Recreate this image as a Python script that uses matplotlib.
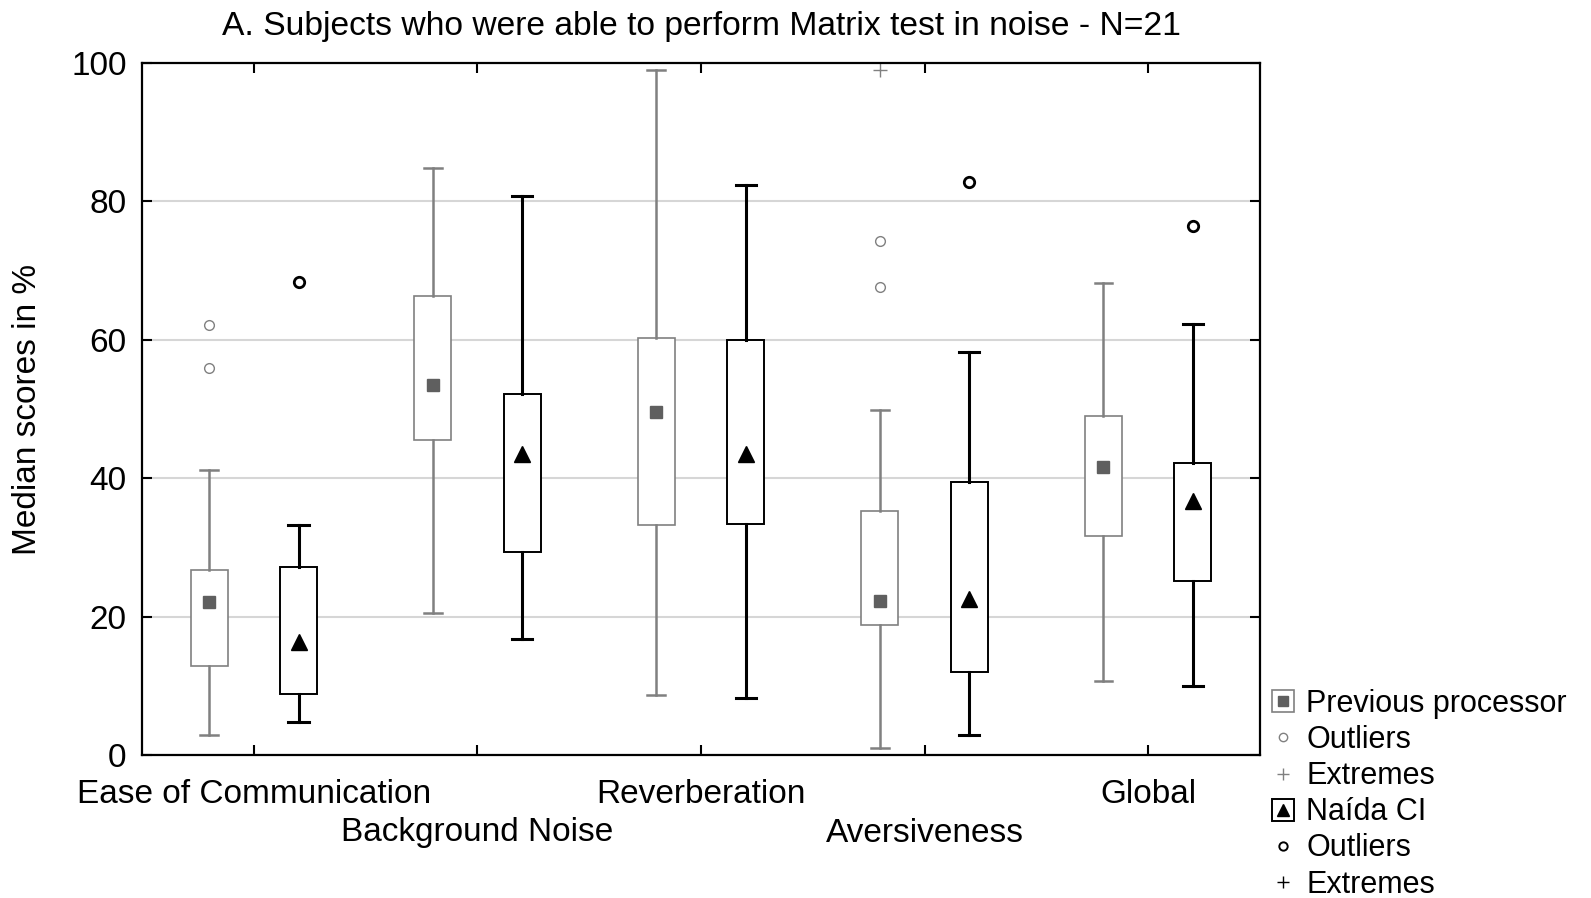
import numpy as np
import matplotlib
matplotlib.use("Agg")
from matplotlib import pyplot as plt
from matplotlib.lines import Line2D

plt.rcParams['font.family'] = ['Liberation Sans', 'DejaVu Sans']

categories = ["Ease of Communication", "Background Noise", "Reverberation",
              "Aversiveness", "Global"]

# previous processor
prev_whislo = [2.9, 20.5, 8.7, 1.0, 10.7]
prev_q1 = [12.8, 45.5, 33.3, 18.8, 31.7]
prev_med = [22.1, 53.4, 49.6, 22.3, 41.6]
prev_q3 = [26.7, 66.3, 60.3, 35.2, 49.0]
prev_whishi = [41.2, 84.8, 99.0, 49.9, 68.2]
prev_outliers = [[62.2, 55.9], [], [], [74.3, 67.7], []]
prev_extremes = [[], [], [], [99.0], []]

# Naida CI
naida_whislo = [4.7, 16.7, 8.2, 2.9, 10.0]
naida_q1 = [8.8, 29.3, 33.4, 12.0, 25.2]
naida_med = [16.3, 43.5, 43.5, 22.6, 36.7]
naida_q3 = [27.1, 52.1, 60.0, 39.4, 42.2]
naida_whishi = [33.3, 80.8, 82.4, 58.2, 62.3]
naida_outliers = [[68.3], [], [], [82.8], [76.5]]
naida_extremes = [[], [], [], [], []]

GRAY = "#808080"
DGRAY = "#5f5f5f"


def make_stats(lo, q1, med, q3, hi, outl):
    stats = []
    for i in range(len(lo)):
        stats.append(dict(whislo=lo[i], q1=q1[i], med=med[i], mean=med[i],
                          q3=q3[i], whishi=hi[i], fliers=np.array(outl[i])))
    return stats


fig = plt.figure(figsize=(15.91, 8.98), dpi=100)
ax = fig.add_axes([142 / 1591, 1 - 755 / 898, (1260 - 142) / 1591, (755 - 63) / 898])

x = np.arange(1, len(categories) + 1)

ax.bxp(make_stats(prev_whislo, prev_q1, prev_med, prev_q3, prev_whishi, prev_outliers),
       positions=x - 0.2, widths=0.165, showmeans=True, patch_artist=True,
       boxprops=dict(facecolor='white', edgecolor=GRAY, linewidth=1.2),
       whiskerprops=dict(color=GRAY, linewidth=1.8),
       capprops=dict(color=GRAY, linewidth=1.8),
       capwidths=0.08,
       medianprops=dict(linewidth=0),
       meanprops=dict(marker='s', markerfacecolor=DGRAY, markeredgecolor=DGRAY,
                      markersize=9),
       flierprops=dict(marker='o', markerfacecolor='white', markeredgecolor=GRAY,
                       markersize=7, markeredgewidth=1.0))

ax.bxp(make_stats(naida_whislo, naida_q1, naida_med, naida_q3, naida_whishi, naida_outliers),
       positions=x + 0.2, widths=0.165, showmeans=True, patch_artist=True,
       boxprops=dict(facecolor='white', edgecolor='black', linewidth=1.4),
       whiskerprops=dict(color='black', linewidth=2.2),
       capprops=dict(color='black', linewidth=2.2),
       capwidths=0.09,
       medianprops=dict(linewidth=0),
       meanprops=dict(marker='^', markerfacecolor='black', markeredgecolor='black',
                      markersize=11),
       flierprops=dict(marker='o', markerfacecolor='white', markeredgecolor='black',
                       markersize=7.5, markeredgewidth=2.0))

for i in range(len(categories)):
    if prev_extremes[i]:
        ax.plot([x[i] - 0.2] * len(prev_extremes[i]), prev_extremes[i], '+',
                color=GRAY, markersize=10, markeredgewidth=1.0, clip_on=False)
    if naida_extremes[i]:
        ax.plot([x[i] + 0.2] * len(naida_extremes[i]), naida_extremes[i], '+',
                color='black', markersize=10, markeredgewidth=1.5, clip_on=False)

ax.set_xlim(0.5, len(categories) + 0.5)
ax.set_ylim(0, 100)
ax.set_yticks([0, 20, 40, 60, 80, 100])
# alternate labels on two rows: major ticks on the first row, minor on the second
ax.set_xticks(x[::2])
ax.set_xticklabels(categories[::2])
ax.set_xticks(x[1::2], minor=True)
ax.set_xticklabels(categories[1::2], minor=True)
ax.yaxis.grid(True, color='#d6d6d6', linewidth=1.5)
ax.set_axisbelow(True)
ax.tick_params(which='both', direction='in', length=7, width=1.5, labelsize=24,
               top=True, right=True, colors='black')
ax.tick_params(axis='x', which='major', pad=17.5)
ax.tick_params(axis='x', which='minor', pad=45)
ax.tick_params(axis='y', pad=11)
for s in ax.spines.values():
    s.set_linewidth(1.6)

ax.set_ylabel("Median scores in %", fontsize=24, labelpad=20)
ax.set_title("A. Subjects who were able to perform Matrix test in noise - N=21",
             fontsize=24.2, pad=20)

handles = [
    (Line2D([], [], ls='none', marker='s', markersize=16, markerfacecolor='white',
            markeredgecolor=GRAY, markeredgewidth=1.2),
     Line2D([], [], ls='none', marker='s', markersize=7, markerfacecolor=DGRAY,
            markeredgecolor=DGRAY)),
    Line2D([], [], ls='none', marker='o', markersize=6, markerfacecolor='white',
           markeredgecolor=GRAY),
    Line2D([], [], ls='none', marker='+', markersize=9, color=GRAY),
    (Line2D([], [], ls='none', marker='s', markersize=16, markerfacecolor='white',
            markeredgecolor='black', markeredgewidth=1.4),
     Line2D([], [], ls='none', marker='^', markersize=8, markerfacecolor='black',
            markeredgecolor='black')),
    Line2D([], [], ls='none', marker='o', markersize=6, markerfacecolor='white',
           markeredgecolor='black', markeredgewidth=1.4),
    Line2D([], [], ls='none', marker='+', markersize=9, color='black'),
]
labels = ["Previous processor", "Outliers", "Extremes", "Naída CI", "Outliers", "Extremes"]
fig.legend(handles, labels, loc='upper left', bbox_to_anchor=(1268 / 1591, 1 - 689 / 898),
           frameon=False, fontsize=22, handlelength=1.0, handletextpad=0.25,
           labelspacing=0.2, borderpad=0, borderaxespad=0)

fig.savefig("out.png", dpi=100)
